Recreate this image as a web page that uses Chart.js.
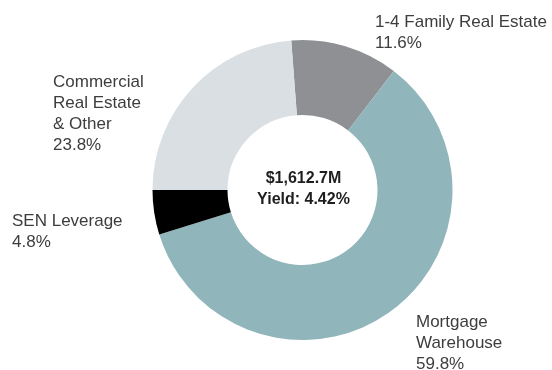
<!DOCTYPE html>
<html>
<head>
<meta charset="utf-8">
<title>Loan Portfolio</title>
<script src="https://cdn.jsdelivr.net/npm/chart.js@4"></script>
<style>
  html, body { margin: 0; padding: 0; background: #fff; }
  #wrap { width: 552px; height: 370px; }
</style>
</head>
<body>
<div id="wrap"><canvas id="portfolioChart" width="552" height="370"></canvas></div>
<script>
// Portfolio composition (percent of total loans)
const categories = [
    ['1-4 Family Real Estate'],
    ['Mortgage', 'Warehouse'],
    ['SEN Leverage'],
    ['Commercial', 'Real Estate', '& Other']
];
const shares = [11.6, 59.8, 4.8, 23.8];
const centerLines = ['$1,612.7M', 'Yield: 4.42%'];

const sliceColors = ['#8f9094', '#90b5ba', '#000000', '#d9dfe3'];
const textColor = '#3d3d3d';

// where each slice label starts (left x, first baseline)
const labelSpots = [
    { x: 375, y: 27 },
    { x: 416, y: 327 },
    { x: 12, y: 226 },
    { x: 53, y: 87 }
];

const labelPlugin = {
    id: 'sliceLabels',
    afterDraw(chart) {
        const ctx = chart.ctx;
        const meta = chart.getDatasetMeta(0);
        ctx.save();
        ctx.fillStyle = textColor;
        ctx.textAlign = 'left';
        ctx.textBaseline = 'alphabetic';
        ctx.font = '17px "Liberation Sans", Arial, sans-serif';
        chart.data.labels.forEach((lines, i) => {
            const spot = labelSpots[i];
            const all = lines.concat([chart.data.datasets[0].data[i].toFixed(1) + '%']);
            all.forEach((t, j) => ctx.fillText(t, spot.x, spot.y + j * 21));
        });

        // total and yield in the hole
        const arc = meta.data[0];
        ctx.fillStyle = '#1e1e1e';
        ctx.textAlign = 'center';
        ctx.font = 'bold 16px "Liberation Sans", Arial, sans-serif';
        ctx.fillText(centerLines[0], arc.x + 1, arc.y - 7);
        ctx.fillText(centerLines[1], arc.x + 1, arc.y + 14);
        ctx.restore();
    }
};

new Chart(document.getElementById('portfolioChart'), {
    type: 'doughnut',
    data: {
        labels: categories,
        datasets: [{
            data: shares,
            backgroundColor: sliceColors,
            borderWidth: 0
        }]
    },
    options: {
        responsive: false,
        devicePixelRatio: 1,
        animation: false,
        cutout: '50%',
        rotation: -4.3,
        layout: {
            padding: { left: 152.5, right: 99.5, top: 40, bottom: 30 }
        },
        plugins: {
            legend: { display: false },
            tooltip: { enabled: false }
        }
    },
    plugins: [labelPlugin]
});
</script>
</body>
</html>
